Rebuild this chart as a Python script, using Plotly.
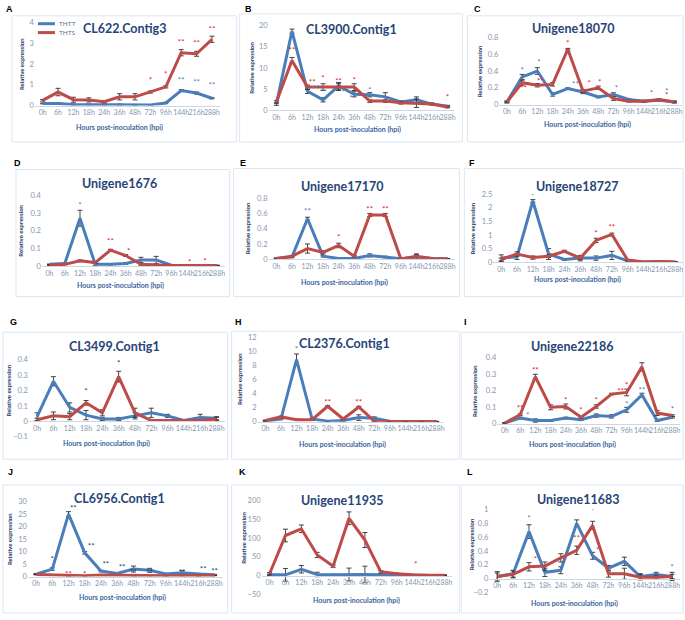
import plotly.graph_objects as go

W, H = 685, 620

HOURS = ["0h", "6h", "12h", "18h", "24h", "36h", "48h", "72h", "96h", "144h", "216h", "288h"]
SERIES = ["THTT", "THTS"]

# ---------------- data (relative expression) ----------------
A_TITLE = "CL622.Contig3"
A_THTT = [0.10, 0.10, 0.05, 0.05, 0.05, 0.05, 0.03, 0.03, 0.12, 0.72, 0.60, 0.35]
A_THTS = [0.25, 0.65, 0.28, 0.27, 0.18, 0.42, 0.42, 0.65, 0.90, 2.55, 2.50, 3.20]
A_THTT_ERR = [0.02, 0.03, 0.02, 0.02, 0.02, 0.02, 0.01, 0.01, 0.03, 0.05, 0.05, 0.03]
A_THTS_ERR = [0.04, 0.18, 0.12, 0.10, 0.05, 0.15, 0.15, 0.05, 0.05, 0.15, 0.12, 0.15]

B_TITLE = "CL3900.Contig1"
B_THTT = [1.5, 18.7, 4.5, 2.5, 5.8, 3.8, 3.7, 3.2, 2.0, 2.5, 1.5, 1.0]
B_THTS = [2.0, 11.8, 5.5, 5.5, 5.5, 5.5, 2.2, 2.2, 1.8, 1.7, 1.5, 0.8]
B_THTT_ERR = [0.3, 0.5, 0.5, 0.5, 0.8, 0.6, 0.5, 1.0, 0.3, 0.7, 0.2, 0.2]
B_THTS_ERR = [0.3, 0.7, 0.5, 0.8, 0.8, 0.8, 0.3, 0.3, 0.3, 1.0, 0.2, 0.2]

C_TITLE = "Unigene18070"
C_THTT = [0.03, 0.33, 0.40, 0.12, 0.19, 0.15, 0.09, 0.12, 0.06, 0.04, 0.05, 0.03]
C_THTS = [0.03, 0.26, 0.23, 0.24, 0.66, 0.16, 0.20, 0.07, 0.04, 0.04, 0.06, 0.03]
C_THTT_ERR = [0.01, 0.03, 0.04, 0.02, 0.01, 0.02, 0.01, 0.02, 0.01, 0.01, 0.01, 0.01]
C_THTS_ERR = [0.01, 0.03, 0.02, 0.02, 0.01, 0.02, 0.02, 0.02, 0.01, 0.01, 0.01, 0.01]

D_TITLE = "Unigene1676"
D_THTT = [0.010, 0.015, 0.270, 0.010, 0.010, 0.015, 0.035, 0.035, 0.005, 0.003, 0.003, 0.003]
D_THTS = [0.005, 0.010, 0.030, 0.020, 0.090, 0.060, 0.010, 0.005, 0.003, 0.003, 0.003, 0.003]
D_THTT_ERR = [0.002, 0.003, 0.045, 0.005, 0.003, 0.005, 0.015, 0.020, 0.002, 0.002, 0.002, 0.002]
D_THTS_ERR = [0.002, 0.003, 0.005, 0.005, 0.005, 0.005, 0.005, 0.003, 0.002, 0.002, 0.002, 0.002]

E_TITLE = "Unigene17170"
E_THTT = [0.01, 0.03, 0.53, 0.04, 0.01, 0.01, 0.05, 0.03, 0.005, 0.03, 0.01, 0.005]
E_THTS = [0.01, 0.04, 0.14, 0.09, 0.18, 0.04, 0.58, 0.58, 0.005, 0.04, 0.01, 0.005]
E_THTT_ERR = [0.005, 0.01, 0.02, 0.01, 0.005, 0.005, 0.02, 0.01, 0.005, 0.04, 0.01, 0.005]
E_THTS_ERR = [0.005, 0.01, 0.06, 0.02, 0.03, 0.01, 0.02, 0.02, 0.005, 0.02, 0.005, 0.005]

F_TITLE = "Unigene18727"
F_THTT = [0.15, 0.20, 2.25, 0.30, 0.10, 0.15, 0.15, 0.25, 0.05, 0.01, 0.02, 0.01]
F_THTS = [0.10, 0.30, 0.17, 0.22, 0.40, 0.15, 0.80, 1.02, 0.08, 0.01, 0.03, 0.01]
F_THTT_ERR = [0.12, 0.10, 0.05, 0.20, 0.03, 0.10, 0.08, 0.15, 0.03, 0.01, 0.01, 0.01]
F_THTS_ERR = [0.05, 0.08, 0.06, 0.05, 0.04, 0.05, 0.08, 0.05, 0.02, 0.01, 0.01, 0.01]

G_TITLE = "CL3499.Contig1"
G_THTT = [0.030, 0.260, 0.090, 0.040, 0.015, 0.015, 0.035, 0.055, 0.035, 0.005, 0.025, 0.020]
G_THTS = [0.010, 0.035, 0.030, 0.120, 0.055, 0.290, 0.055, 0.005, 0.005, 0.005, 0.005, 0.015]
G_THTT_ERR = [0.025, 0.030, 0.030, 0.030, 0.010, 0.010, 0.020, 0.030, 0.010, 0.005, 0.020, 0.010]
G_THTS_ERR = [0.010, 0.025, 0.020, 0.015, 0.020, 0.035, 0.030, 0.005, 0.005, 0.005, 0.005, 0.010]

H_TITLE = "CL2376.Contig1"
H_THTT = [0.1, 0.4, 8.8, 0.4, 0.1, 0.2, 0.6, 0.5, 0.1, 0.05, 0.05, 0.02]
H_THTS = [0.2, 0.7, 0.3, 0.3, 2.2, 0.4, 2.1, 0.1, 0.05, 0.05, 0.05, 0.05]
H_THTT_ERR = [0.05, 0.1, 0.8, 0.1, 0.05, 0.1, 0.4, 0.2, 0.05, 0.02, 0.02, 0.02]
H_THTS_ERR = [0.05, 0.1, 0.1, 0.1, 0.1, 0.1, 0.1, 0.05, 0.02, 0.02, 0.02, 0.02]

I_TITLE = "Unigene22186"
I_THTT = [0.005, 0.035, 0.020, 0.020, 0.035, 0.025, 0.050, 0.045, 0.085, 0.175, 0.020, 0.040]
I_THTS = [0.005, 0.055, 0.285, 0.100, 0.105, 0.040, 0.105, 0.180, 0.190, 0.345, 0.065, 0.050]
I_THTT_ERR = [0.002, 0.005, 0.010, 0.005, 0.005, 0.005, 0.010, 0.010, 0.015, 0.010, 0.005, 0.005]
I_THTS_ERR = [0.002, 0.005, 0.015, 0.015, 0.015, 0.005, 0.010, 0.005, 0.020, 0.025, 0.015, 0.005]

J_TITLE = "CL6956.Contig1"
J_THTT = [1.0, 3.0, 25.0, 9.5, 2.2, 1.2, 3.0, 2.5, 1.0, 1.5, 1.0, 0.7]
J_THTS = [0.8, 0.6, 0.3, 0.3, 0.6, 0.5, 0.4, 0.4, 0.3, 0.4, 0.3, 0.4]
J_THTT_ERR = [0.2, 0.5, 1.0, 0.5, 0.3, 0.3, 1.2, 0.8, 0.3, 0.8, 0.3, 0.2]
J_THTS_ERR = [0.1, 0.1, 0.1, 0.1, 0.1, 0.1, 0.1, 0.1, 0.1, 0.1, 0.1, 0.1]

K_TITLE = "Unigene11935"
K_THTT = [2, 2, 17, 3, 2, 3, 3, 2, 1, 0.5, 0.5, 0.5]
K_THTS = [5, 107, 125, 55, 25, 153, 95, 10, 5, 2, 1, 1]
K_THTT_ERR = [2, 17, 10, 6, 2, 17, 22, 3, 1, 1, 1, 1]
K_THTS_ERR = [3, 17, 10, 7, 3, 17, 20, 3, 2, 1, 1, 1]

L_TITLE = "Unigene11683"
L_THTT = [0.03, 0.07, 0.68, 0.09, 0.12, 0.80, 0.33, 0.15, 0.25, 0.03, 0.06, 0.03]
L_THTS = [0.03, 0.06, 0.17, 0.18, 0.30, 0.41, 0.77, 0.07, 0.07, 0.02, 0.02, 0.03]
L_THTT_ERR = [0.07, 0.05, 0.10, 0.06, 0.05, 0.05, 0.05, 0.04, 0.06, 0.04, 0.03, 0.03]
L_THTS_ERR = [0.05, 0.05, 0.06, 0.06, 0.06, 0.06, 0.06, 0.05, 0.08, 0.04, 0.03, 0.06]

# y-axis ranges (min, max, step)
Y_RANGES = {
    "A": (0, 4, 1), "B": (0, 20, 5), "C": (0, 0.8, 0.2),
    "D": (0, 0.4, 0.1), "E": (0, 0.8, 0.2), "F": (0, 2.5, 0.5),
    "G": (-0.1, 0.4, 0.1), "H": (0, 12, 2), "I": (0, 0.4, 0.1),
    "J": (0, 30, 5), "K": (-50, 200, 50), "L": (-0.2, 1, 0.2),
}

# significance marks: (time index, y, mark, series)  series: T=THTT, S=THTS
A_SIG = [(7, 1.2, "*", "S"), (8, 1.45, "*", "S"), (9, 3.0, "**", "S"), (10, 2.95, "**", "S"),
         (11, 3.65, "**", "S"), (9, 1.2, "**", "T"), (10, 1.1, "**", "T"), (11, 0.95, "**", "T")]
B_SIG = [(1, 19.8, "**", "T"), (1, 14.0, "**", "S"), (2.3, 6.5, "**", "S"), (2.5, 4.8, "**", "T"),
         (3, 7.3, "*", "S"), (3, 4.2, "**", "T"), (4, 6.8, "**", "S"), (4.3, 4.0, "*", "T"),
         (5, 7.0, "*", "S"), (4.8, 2.6, "*", "T"), (6, 4.5, "*", "T"), (11, 2.9, "*", "S")]
C_SIG = [(1, 0.40, "*", "T"), (1.1, 0.18, "**", "S"), (2.1, 0.50, "*", "T"), (2.2, 0.27, "**", "S"),
         (4, 0.72, "*", "S"), (4.5, 0.23, "**", "T"), (5.4, 0.25, "*", "S"), (6.1, 0.26, "*", "S"),
         (7.2, 0.18, "*", "T"), (9.5, 0.13, "*", "T"), (10.5, 0.15, "*", "T"), (10.5, 0.10, "*", "S")]
D_SIG = [(2, 0.34, "*", "T"), (4, 0.135, "**", "S"), (5.2, 0.08, "*", "S"),
         (9.2, 0.018, "*", "S"), (10.2, 0.022, "*", "S")]
E_SIG = [(2, 0.62, "**", "T"), (4, 0.28, "*", "S"), (6, 0.65, "**", "S"), (7, 0.65, "**", "S")]
F_SIG = [(2, 2.4, "*", "T"), (6, 1.05, "*", "S"), (7, 1.25, "**", "S")]
G_SIG = [(3, 0.19, "*", "N"), (5, 0.37, "*", "N")]
H_SIG = [(2, 10.2, "*", "T"), (4, 2.6, "**", "S"), (6, 2.6, "**", "S")]
I_SIG = [(1, 0.09, "**", "S"), (1.5, 0.05, "*", "T"), (2, 0.32, "**", "S"), (4, 0.14, "*", "S"),
         (5, 0.08, "*", "S"), (6, 0.14, "*", "S"), (7.6, 0.19, "**", "S"), (8, 0.23, "*", "S"),
         (8, 0.115, "*", "T"), (9, 0.40, "**", "S"), (9, 0.20, "**", "T"), (11, 0.085, "*", "T")]
J_SIG = [(1, 6.5, "*", "N"), (2.3, 27, "**", "N"), (3.4, 12, "**", "N"), (4.3, 4.5, "**", "N"),
         (5.3, 3.5, "**", "N"), (6, 1.3, "**", "N"), (7, 1.3, "**", "N"), (9, 1.3, "**", "N"),
         (10.3, 2.8, "**", "N"), (11, 1.8, "**", "N"), (2, 0.5, "**", "S"), (3, 0.5, "*", "S")]
K_SIG = [(9.2, 28, "*", "S")]
L_SIG = [(2, 0.87, "*", "T"), (2.4, 0.27, "*", "S"), (5, 0.58, "**", "S"), (6, 0.97, "*", "S"),
         (6.3, 0.40, "*", "T"), (11, 0.15, "*", "T")]

PANELS = [
    ("A", A_TITLE, A_THTT, A_THTS, A_THTT_ERR, A_THTS_ERR, A_SIG),
    ("B", B_TITLE, B_THTT, B_THTS, B_THTT_ERR, B_THTS_ERR, B_SIG),
    ("C", C_TITLE, C_THTT, C_THTS, C_THTT_ERR, C_THTS_ERR, C_SIG),
    ("D", D_TITLE, D_THTT, D_THTS, D_THTT_ERR, D_THTS_ERR, D_SIG),
    ("E", E_TITLE, E_THTT, E_THTS, E_THTT_ERR, E_THTS_ERR, E_SIG),
    ("F", F_TITLE, F_THTT, F_THTS, F_THTT_ERR, F_THTS_ERR, F_SIG),
    ("G", G_TITLE, G_THTT, G_THTS, G_THTT_ERR, G_THTS_ERR, G_SIG),
    ("H", H_TITLE, H_THTT, H_THTS, H_THTT_ERR, H_THTS_ERR, H_SIG),
    ("I", I_TITLE, I_THTT, I_THTS, I_THTT_ERR, I_THTS_ERR, I_SIG),
    ("J", J_TITLE, J_THTT, J_THTS, J_THTT_ERR, J_THTS_ERR, J_SIG),
    ("K", K_TITLE, K_THTT, K_THTS, K_THTT_ERR, K_THTS_ERR, K_SIG),
    ("L", L_TITLE, L_THTT, L_THTS, L_THTT_ERR, L_THTS_ERR, L_SIG),
]

# ---------------- geometry (pixels) ----------------
GEOM = {
    "A": dict(box=(12, 12, 237, 140), letter=(4, 5), xd=(35, 220), yd=(19, 103), title=(125, 25), ytx=21, xt=(120, 125)),
    "B": dict(box=(240, 10, 463, 140), letter=(243, 5), xd=(269, 456), yd=(22, 108), title=(352, 26), ytx=251, xt=(358, 127)),
    "C": dict(box=(468, 12, 684, 140), letter=(473, 5), xd=(500, 683), yd=(34, 102), title=(574, 25), ytx=480, xt=(588, 122)),
    "D": dict(box=(16, 168, 230, 297), letter=(12, 161), xd=(42, 225), yd=(194, 266), title=(120, 182), ytx=21, xt=(121, 286)),
    "E": dict(box=(234, 167, 460, 297), letter=(238, 161), xd=(269, 456), yd=(197, 259), title=(342, 185), ytx=248, xt=(345, 283)),
    "F": dict(box=(465, 167, 684, 297), letter=(468, 161), xd=(494, 684), yd=(193, 262), title=(578, 185), ytx=473, xt=(578, 280)),
    "G": dict(box=(3, 333, 228, 462), letter=(8, 323), xd=(29, 225), yd=(361, 439), title=(115, 348), ytx=9, xt=(107, 446)),
    "H": dict(box=(232, 332, 460, 462), letter=(233, 323), xd=(258, 445), yd=(338, 424), title=(345, 345), ytx=240, xt=(343, 447)),
    "I": dict(box=(462, 333, 684, 462), letter=(463, 323), xd=(498, 681), yd=(359, 426), title=(573, 348), ytx=475, xt=(573, 447)),
    "J": dict(box=(3, 488, 228, 618), letter=(6, 475), xd=(28, 223), yd=(505, 581), title=(120, 502), ytx=9, xt=(123, 602)),
    "K": dict(box=(232, 488, 460, 618), letter=(237, 475), xd=(262, 453), yd=(504, 599), title=(343, 504), ytx=243, xt=(357, 605)),
    "L": dict(box=(462, 488, 684, 618), letter=(466, 475), xd=(490, 681), yd=(513, 597), title=(579, 503), ytx=472, xt=(575, 608)),
}
LEGEND_POS = dict(x0=38, x1=55, ys=(20, 29), tx=57)

BLUE = "#4A7EBB"
RED = "#BE4B48"
NAVY = "#1F3864"
SIG_COLORS = {"T": "#4A7EBB", "S": "#E0201B", "N": "#1F3864"}
TICK_COLOR = "#8497B0"
TITLE_COLOR = "#264478"
XTITLE_COLOR = "#3B64A0"
FONT = "Lato"


def px(x):
    return x / W


def py(y):
    return 1 - y / H


fig = go.Figure()
layout = dict(
    width=W, height=H, margin=dict(l=0, r=0, t=0, b=0),
    paper_bgcolor="white", plot_bgcolor="rgba(0,0,0,0)",
    font=dict(family=FONT, color=TICK_COLOR, size=7),
    showlegend=False,
)
shapes = []
annotations = []
xi = list(range(len(HOURS)))
COLORS = (BLUE, RED)

for k, (key, title, thtt, thts, thtt_err, thts_err, sig) in enumerate(PANELS):
    g = GEOM[key]
    n = "" if k == 0 else str(k + 1)
    xa, ya = "x" + n, "y" + n
    ymin, ymax, step = Y_RANGES[key]
    ytop, ybot = g["yd"]
    zero_px = ybot - (0 - ymin) / (ymax - ymin) * (ybot - ytop)

    for name, vals, err, col in ((SERIES[0], thtt, thtt_err, BLUE), (SERIES[1], thts, thts_err, RED)):
        fig.add_trace(go.Scatter(
            x=xi, y=vals, mode="lines", name=name, xaxis=xa, yaxis=ya,
            line=dict(color=col, width=3),
            error_y=dict(type="data", array=err, visible=True, color="#303030", thickness=0.9, width=2.5),
            hoverinfo="skip",
        ))
    for s_kind in ("T", "S", "N"):
        pts = [s for s in sig if s[3] == s_kind]
        if not pts:
            continue
        fig.add_trace(go.Scatter(
            x=[p[0] for p in pts], y=[p[1] for p in pts], text=[p[2] for p in pts],
            mode="text", textposition="middle center",
            textfont=dict(color=SIG_COLORS[s_kind], size=8, family=FONT),
            xaxis=xa, yaxis=ya, hoverinfo="skip",
        ))

    layout["xaxis" + n] = dict(
        domain=[px(g["xd"][0]), px(g["xd"][1])], anchor="free", position=py(zero_px),
        range=[-0.5, 11.5], tickvals=xi, ticktext=HOURS, tickangle=0,
        showline=True, linecolor="#D0D7E2", linewidth=1, showgrid=False, zeroline=False,
        ticks="", tickfont=dict(size=7, color=TICK_COLOR), fixedrange=True,
    )
    layout["yaxis" + n] = dict(
        domain=[py(ybot), py(ytop)], anchor=xa,
        range=[ymin, ymax], tick0=0, dtick=step,
        showline=False, showgrid=False, zeroline=False, ticks="",
        tickfont=dict(size=7.5, color=TICK_COLOR), fixedrange=True,
    )

    x0, y0, x1, y1 = g["box"]
    shapes.append(dict(type="rect", xref="paper", yref="paper",
                       x0=px(x0), x1=px(x1), y0=py(y1), y1=py(y0),
                       line=dict(color="#DCE6F2", width=1), fillcolor="rgba(0,0,0,0)", layer="below"))
    annotations.append(dict(text="<b>%s</b>" % key, x=px(g["letter"][0]), y=py(g["letter"][1]),
                            xref="paper", yref="paper", xanchor="left", yanchor="middle",
                            showarrow=False, font=dict(size=9, color="#000000", family="Liberation Sans")))
    annotations.append(dict(text="<b>%s</b>" % title, x=px(g["title"][0]), y=py(g["title"][1]),
                            xref="paper", yref="paper", xanchor="center", yanchor="middle",
                            showarrow=False, font=dict(size=12.5, color=TITLE_COLOR, family=FONT)))
    annotations.append(dict(text="<b>Relative expression</b>", x=px(g["ytx"]), y=py((ytop + zero_px) / 2),
                            xref="paper", yref="paper", xanchor="center", yanchor="middle", textangle=-90,
                            showarrow=False, font=dict(size=6, color=NAVY, family=FONT)))
    annotations.append(dict(text="<b>Hours post-inoculation (hpi)</b>", x=px(g["xt"][0]), y=py(g["xt"][1]),
                            xref="paper", yref="paper", xanchor="center", yanchor="middle",
                            showarrow=False, font=dict(size=7, color=XTITLE_COLOR, family=FONT)))

# legend (panel A only)
for name, col, ly in zip(SERIES, COLORS, LEGEND_POS["ys"]):
    shapes.append(dict(type="line", xref="paper", yref="paper",
                       x0=px(LEGEND_POS["x0"]), x1=px(LEGEND_POS["x1"]), y0=py(ly), y1=py(ly),
                       line=dict(color=col, width=3)))
    annotations.append(dict(text=name, x=px(LEGEND_POS["tx"]), y=py(ly), xref="paper", yref="paper",
                            xanchor="left", yanchor="middle", showarrow=False,
                            font=dict(size=6.5, color="#5A6E8C", family=FONT)))

layout["shapes"] = shapes
layout["annotations"] = annotations
fig.update_layout(**layout)
fig.write_html("out.html", config={"displayModeBar": False, "staticPlot": True},
               post_script="document.body.style.margin='0px';document.body.style.padding='0px';")
